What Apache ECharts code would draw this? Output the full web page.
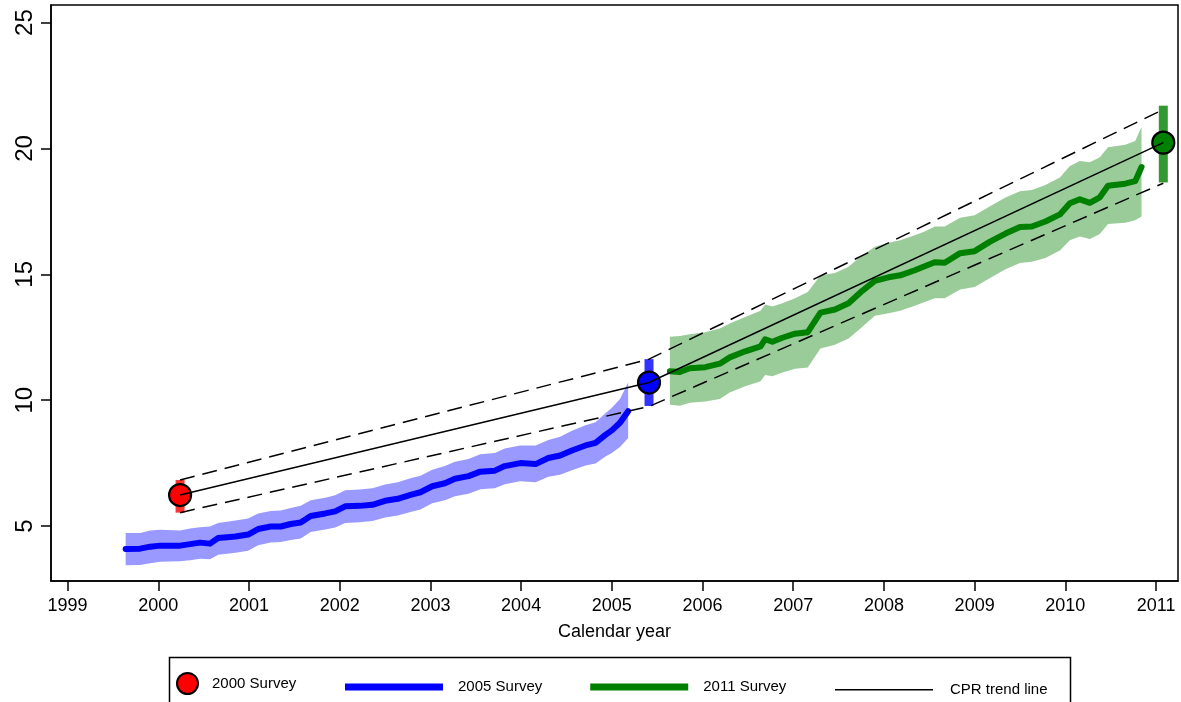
<!DOCTYPE html>
<html><head><meta charset="utf-8">
<script src="https://cdn.jsdelivr.net/npm/echarts@6/dist/echarts.min.js"></script>
<style>html,body{margin:0;padding:0;background:#fff}#c{width:1181px;height:702px}</style>
</head><body><div id="c"></div>
<script>
// ---- tick labels ----
const xTicks = [1999, 2000, 2001, 2002, 2003, 2004, 2005, 2006, 2007, 2008, 2009, 2010, 2011];
const yTicks = [5, 10, 15, 20, 25];

// ---- 2005 survey trend (blue) ----
const blueYears = [1999.64, 1999.80, 1999.91, 2000.02, 2000.24, 2000.35, 2000.46, 2000.57, 2000.66, 2000.85, 2000.99,
  2001.10, 2001.24, 2001.35, 2001.46, 2001.57, 2001.68, 2001.84, 2001.95, 2002.06, 2002.22, 2002.36, 2002.50,
  2002.64, 2002.78, 2002.89, 2003.02, 2003.16, 2003.27, 2003.42, 2003.55, 2003.71, 2003.82, 2003.99, 2004.16,
  2004.30, 2004.43, 2004.56, 2004.71, 2004.82, 2004.93, 2005.00, 2005.09, 2005.18];
const blueValues = [4.09, 4.10, 4.18, 4.22, 4.22, 4.28, 4.34, 4.30, 4.52, 4.58, 4.66,
  4.88, 4.98, 4.98, 5.08, 5.14, 5.40, 5.50, 5.58, 5.78, 5.80, 5.84, 6.00,
  6.08, 6.24, 6.34, 6.58, 6.70, 6.88, 6.98, 7.16, 7.20, 7.38, 7.50, 7.46,
  7.70, 7.80, 8.00, 8.20, 8.30, 8.62, 8.80, 9.10, 9.56];
const blueUpper = [4.72, 4.72, 4.82, 4.85, 4.82, 4.90, 4.95, 4.98, 5.12, 5.22, 5.30,
  5.50, 5.60, 5.62, 5.72, 5.80, 6.02, 6.12, 6.22, 6.42, 6.45, 6.50, 6.65,
  6.74, 6.90, 7.00, 7.24, 7.38, 7.55, 7.66, 7.85, 7.90, 8.08, 8.20, 8.20,
  8.42, 8.55, 8.78, 9.00, 9.12, 9.48, 9.70, 10.05, 10.70];
const blueLower = [3.44, 3.45, 3.52, 3.58, 3.60, 3.64, 3.70, 3.68, 3.86, 3.94, 4.02,
  4.24, 4.34, 4.36, 4.44, 4.50, 4.76, 4.86, 4.94, 5.12, 5.15, 5.20, 5.34,
  5.42, 5.56, 5.66, 5.90, 6.02, 6.18, 6.28, 6.46, 6.50, 6.66, 6.78, 6.74,
  6.96, 7.04, 7.22, 7.40, 7.48, 7.76, 7.90, 8.14, 8.50];

// ---- 2011 survey trend (green) ----
const greenYears = [2005.64, 2005.75, 2005.86, 2006.03, 2006.19, 2006.30, 2006.47, 2006.64, 2006.69, 2006.77,
  2006.88, 2007.02, 2007.16, 2007.30, 2007.46, 2007.61, 2007.74, 2007.90, 2008.05, 2008.18, 2008.34,
  2008.45, 2008.56, 2008.67, 2008.84, 2009.00, 2009.17, 2009.34, 2009.50, 2009.63, 2009.78, 2009.94,
  2010.05, 2010.16, 2010.27, 2010.38, 2010.47, 2010.66, 2010.77, 2010.84];
const greenValues = [11.15, 11.12, 11.27, 11.31, 11.45, 11.70, 11.94, 12.14, 12.42, 12.32,
  12.48, 12.64, 12.70, 13.48, 13.60, 13.85, 14.28, 14.74, 14.88, 14.96, 15.16,
  15.32, 15.48, 15.46, 15.84, 15.92, 16.30, 16.62, 16.88, 16.90, 17.10, 17.38,
  17.82, 17.98, 17.84, 18.06, 18.52, 18.60, 18.70, 19.26];
const greenUpper = [12.52, 12.55, 12.62, 12.70, 12.85, 13.05, 13.30, 13.55, 13.80, 13.72,
  13.85, 14.05, 14.30, 14.95, 15.05, 15.30, 15.70, 16.10, 16.25, 16.35, 16.55,
  16.70, 16.90, 16.90, 17.25, 17.35, 17.70, 18.05, 18.30, 18.35, 18.55, 18.85,
  19.30, 19.50, 19.45, 19.65, 20.05, 20.15, 20.30, 20.85];
const greenLower = [9.82, 9.78, 9.90, 9.95, 10.05, 10.30, 10.55, 10.75, 11.00, 10.95,
  11.10, 11.25, 11.30, 12.05, 12.20, 12.45, 12.85, 13.35, 13.45, 13.55, 13.75,
  13.90, 14.05, 14.05, 14.40, 14.50, 14.85, 15.20, 15.45, 15.50, 15.65, 15.95,
  16.35, 16.50, 16.40, 16.60, 17.00, 17.05, 17.15, 17.30];

// ---- survey point estimates with confidence intervals ----
const surveyYears = [2000.24, 2005.41, 2011.08];
const surveyEstimates = [6.23, 10.70, 20.23];
const surveyCILower = [5.53, 9.77, 18.65];
const surveyCIUpper = [6.83, 11.63, 21.70];

// ---- CPR trend line and its bounds ----
const trendYears = [2000.24, 2005.41, 2011.08];
const trendValues = [6.23, 10.70, 20.23];
const trendUpper = [6.83, 11.63, 21.55];
const trendLower = [5.53, 9.75, 18.62];

const FONT = 'Liberation Sans, Arial, Helvetica, sans-serif';
const pairs = (xs, ys) => xs.map((x, i) => [x, ys[i]]);

function bandRenderer(xs, lo, hi, fill) {
  return function (params, api) {
    if (params.dataIndex !== 0) return null;
    const pts = [];
    for (let i = 0; i < xs.length; i++) pts.push(api.coord([xs[i], hi[i]]));
    for (let i = xs.length - 1; i >= 0; i--) pts.push(api.coord([xs[i], lo[i]]));
    return { type: 'polygon', shape: { points: pts }, style: { fill: fill, stroke: null } };
  };
}
const ciColors = ['rgba(255,0,0,0.8)', 'rgba(0,0,255,0.8)', 'rgba(0,128,0,0.8)'];
const pointColors = ['#ff0000', '#0000ff', '#008000'];

const chart = echarts.init(document.getElementById('c'), null, { renderer: 'canvas' });
const option = {
  animation: false,
  backgroundColor: '#fff',
  grid: { left: 51, right: 3, top: 5, bottom: 121, show: true, borderColor: '#000', borderWidth: 1.5, containLabel: false },
  xAxis: {
    type: 'value', min: 1998.817, max: 2011.242,
    name: 'Calendar year', nameLocation: 'middle', nameGap: 42,
    nameTextStyle: { fontFamily: FONT, fontSize: 18, color: '#000' },
    axisLine: { show: true, lineStyle: { color: '#000', width: 1.5 } },
    axisTick: { show: true, length: 10, lineStyle: { color: '#000', width: 1.5 }, customValues: xTicks },
    axisLabel: { fontFamily: FONT, fontSize: 18, color: '#000', margin: 16, customValues: xTicks, formatter: v => String(v) },
    splitLine: { show: false }
  },
  yAxis: {
    type: 'value', min: 2.815, max: 25.70,
    axisLine: { show: true, lineStyle: { color: '#000', width: 1.5 } },
    axisTick: { show: true, length: 10, lineStyle: { color: '#000', width: 1.5 }, customValues: yTicks },
    axisLabel: { fontFamily: FONT, fontSize: 24, color: '#000', margin: 14, rotate: 90, customValues: yTicks, formatter: v => String(v) },
    splitLine: { show: false }
  },
  legend: [
    { data: ['2000 Survey'], left: 176, top: 672, padding: 0, itemWidth: 21, itemHeight: 21,
      textStyle: { fontFamily: FONT, fontSize: 15, color: '#000', padding: [0, 0, 0, 9] } },
    { data: [{ name: '2005 Survey', icon: 'rect' }, { name: '2011 Survey', icon: 'rect' }], left: 345, top: 679.5, padding: 0,
      itemWidth: 98, itemHeight: 7, itemGap: 48, itemStyle: { borderWidth: 0 },
      textStyle: { fontFamily: FONT, fontSize: 15, color: '#000', padding: [0, 0, 0, 10] } },
    { data: [{ name: 'CPR trend line', icon: 'rect' }], left: 835, top: 682.2, padding: 0,
      itemWidth: 98, itemHeight: 1.6, itemStyle: { borderWidth: 0 },
      textStyle: { fontFamily: FONT, fontSize: 15, color: '#000', padding: [0, 0, 0, 12] } }
  ],
  graphic: [
    { type: 'rect', left: 167, top: 655, shape: { x: 0, y: 0, width: 901, height: 80 }, z: 100,
      style: { fill: 'none', stroke: '#000', lineWidth: 1.5 } }
  ],
  series: [
    { name: '2005 band', type: 'custom', renderItem: bandRenderer(blueYears, blueLower, blueUpper, 'rgba(0,0,255,0.4)'),
      data: blueYears.map((x, i) => [x, blueLower[i], blueUpper[i]]), encode: { x: 0, y: [1, 2] }, silent: true },
    { name: '2011 band', type: 'custom', renderItem: bandRenderer(greenYears, greenLower, greenUpper, 'rgba(0,128,0,0.4)'),
      data: greenYears.map((x, i) => [x, greenLower[i], greenUpper[i]]), encode: { x: 0, y: [1, 2] }, silent: true },
    { name: '2005 Survey', type: 'line', data: pairs(blueYears, blueValues), symbol: 'none', color: '#0000ff',
      lineStyle: { width: 6, color: '#0000ff', cap: 'round', join: 'round' } },
    { name: '2011 Survey', type: 'line', data: pairs(greenYears, greenValues), symbol: 'none', color: '#008000',
      lineStyle: { width: 6, color: '#008000', cap: 'round', join: 'round' } },
    { name: 'CPR trend line', type: 'line', data: pairs(trendYears, trendValues), symbol: 'none', color: '#000',
      lineStyle: { width: 1.5, color: '#000' } },
    { name: 'CPR upper bound', type: 'line', data: pairs(trendYears, trendUpper), symbol: 'none', color: '#000',
      lineStyle: { width: 1.5, color: '#000', type: [15, 8] } },
    { name: 'CPR lower bound', type: 'line', data: pairs(trendYears, trendLower), symbol: 'none', color: '#000',
      lineStyle: { width: 1.5, color: '#000', type: [15, 8] } },
    { name: 'Survey CI', type: 'custom', silent: true,
      data: surveyYears.map((x, i) => [x, surveyCILower[i], surveyCIUpper[i]]), encode: { x: 0, y: [1, 2] },
      renderItem: function (params, api) {
        const a = api.coord([api.value(0), api.value(1)]);
        const b = api.coord([api.value(0), api.value(2)]);
        return { type: 'rect', shape: { x: a[0] - 4.5, y: b[1], width: 9, height: a[1] - b[1] },
          style: { fill: ciColors[params.dataIndex] } };
      } },
    { name: '2000 Survey', type: 'scatter', data: [[surveyYears[0], surveyEstimates[0]]], symbolSize: 22, color: '#ff0000',
      itemStyle: { color: '#ff0000', borderColor: '#000', borderWidth: 2.2, opacity: 1 } },
    { name: 'Survey estimates', type: 'scatter', symbolSize: 22,
      data: [1, 2].map(i => ({ value: [surveyYears[i], surveyEstimates[i]], itemStyle: { color: pointColors[i] } })),
      itemStyle: { borderColor: '#000', borderWidth: 2.2, opacity: 1 } }
  ]
};
chart.setOption(option);
</script></body></html>
